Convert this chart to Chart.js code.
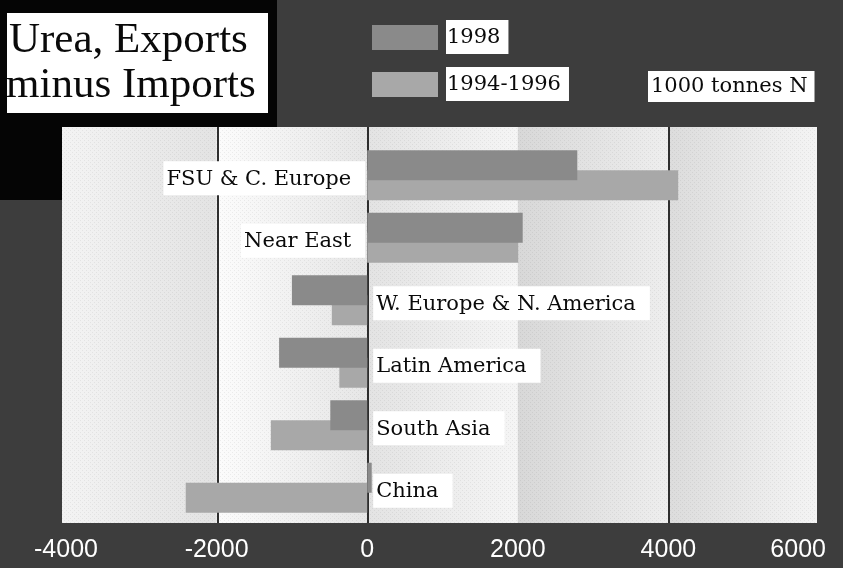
<!DOCTYPE html>
<html>
<head>
<meta charset="utf-8">
<title>Urea, Exports minus Imports</title>
<script src="https://cdn.jsdelivr.net/npm/chart.js@4.4.1/dist/chart.umd.min.js"></script>
<style>
  html, body { margin: 0; padding: 0; background: #3d3d3d; }
</style>
</head>
<body>
<canvas id="ureaChart" width="843" height="568"></canvas>
<script>
const regions = ['FSU & C. Europe', 'Near East', 'W. Europe & N. America', 'Latin America', 'South Asia', 'China'];
const net1998 = [2790, 2065, -1000, -1170, -490, 60];
const net9496 = [4130, 2005, -470, -370, -1280, -2410];
const xTicks = [-4000, -2000, 0, 2000, 4000, 6000];
const seriesNames = ['1998', '1994-1996'];
const titleLines = ['Urea, Exports', 'minus Imports'];
const unitNote = '1000 tonnes N';

const serif = '"DejaVu Serif", serif';
const barColors = ['#8a8a8a', '#a8a8a8'];
// shading of each column between two ticks, left -> right
const bandShades = [
    ['#f3f3f3', '#e3e3e3'],
    ['#fcfcfc', '#e6e6e6'],
    ['#e3e3e3', '#f5f5f5'],
    ['#d8d8d8', '#eeeeee'],
    ['#dcdcdc', '#f4f4f4'],
];
const darkLines = [-2000, 0, 4000];

function whiteBox(ctx, x, y, w, h) {
    ctx.fillStyle = '#ffffff';
    ctx.fillRect(x, y, w, h);
}

// small dotted tile laid over the plot shading
function dotPattern(ctx) {
    const tile = document.createElement('canvas');
    tile.width = 4;
    tile.height = 4;
    const t = tile.getContext('2d');
    t.fillStyle = 'rgba(0,0,0,0.06)';
    t.fillRect(0, 0, 1, 1);
    t.fillRect(2, 2, 1, 1);
    return ctx.createPattern(tile, 'repeat');
}

const backdrop = {
    id: 'backdrop',
    beforeDraw(chart) {
        const { ctx, chartArea: a, scales: { x } } = chart;
        ctx.save();
        ctx.fillStyle = '#3d3d3d';
        ctx.fillRect(0, 0, chart.width, chart.height);
        ctx.fillStyle = '#050505';
        ctx.fillRect(0, 0, 277, 200);

        const top = a.top - 17, bottom = a.bottom + 4;
        const left = a.left - 4, right = a.right - 3;
        for (let i = 0; i < xTicks.length - 1; i++) {
            const x0 = Math.max(left, x.getPixelForValue(xTicks[i]));
            const x1 = Math.min(right, x.getPixelForValue(xTicks[i + 1]));
            const g = ctx.createLinearGradient(x0, 0, x1, 0);
            g.addColorStop(0, bandShades[i][0]);
            g.addColorStop(1, bandShades[i][1]);
            ctx.fillStyle = g;
            ctx.fillRect(x0, top, x1 - x0 + 1, bottom - top);
        }
        ctx.fillStyle = bandShades[0][0];
        ctx.fillRect(left, top, x.getPixelForValue(xTicks[0]) - left + 1, bottom - top);
        ctx.fillStyle = dotPattern(ctx);
        ctx.fillRect(left, top, right - left, bottom - top);

        ctx.strokeStyle = '#2e2e2e';
        ctx.lineWidth = 2;
        darkLines.forEach(v => {
            const px = Math.round(x.getPixelForValue(v)) + 1;
            ctx.beginPath();
            ctx.moveTo(px, top);
            ctx.lineTo(px, bottom);
            ctx.stroke();
        });
        ctx.restore();
    }
};

const regionLabels = {
    id: 'regionLabels',
    afterDatasetsDraw(chart) {
        const { ctx, scales: { x, y } } = chart;
        const zero = x.getPixelForValue(0);
        ctx.save();
        ctx.font = '21px ' + serif;
        ctx.textBaseline = 'middle';
        regions.forEach((name, i) => {
            const cy = y.getPixelForValue(i) + 3;
            const w = ctx.measureText(name).width;
            const onLeft = net1998[i] + net9496[i] >= 0;
            const tx = onLeft ? zero - 16 - w : zero + 9;
            whiteBox(ctx, tx - 3, cy - 17, w + 17, 34);
            ctx.fillStyle = '#0a0a0a';
            ctx.textAlign = 'left';
            ctx.fillText(name, tx, cy + 1);
        });
        ctx.restore();
    }
};

const headings = {
    id: 'headings',
    afterDraw(chart) {
        const { ctx } = chart;
        const sets = chart.data.datasets;
        ctx.save();
        // title block
        whiteBox(ctx, 7, 13, 261, 100);
        ctx.fillStyle = '#0a0a0a';
        ctx.font = '43px "Liberation Serif", "Times New Roman", serif';
        ctx.textBaseline = 'alphabetic';
        ctx.fillText(titleLines[0], 9, 52);
        ctx.fillText(titleLines[1], 6, 97);

        // legend
        ctx.font = '21px ' + serif;
        ctx.textBaseline = 'middle';
        const rows = [37, 84];
        sets.forEach((ds, i) => {
            const cy = rows[i];
            ctx.fillStyle = ds.backgroundColor;
            ctx.fillRect(372, cy - 12, 66, 25);
            const w = ctx.measureText(ds.label).width;
            whiteBox(ctx, 446, cy - 17, w + 9, 34);
            ctx.fillStyle = '#0a0a0a';
            ctx.fillText(ds.label, 447, cy + 1);
        });

        // unit note
        const uw = ctx.measureText(unitNote).width;
        whiteBox(ctx, 648, 71, uw + 10, 31);
        ctx.fillStyle = '#0a0a0a';
        ctx.fillText(unitNote, 651, 87);
        ctx.restore();
    }
};

new Chart(document.getElementById('ureaChart'), {
    type: 'bar',
    data: {
        labels: regions,
        datasets: [{
            label: seriesNames[0],
            data: net1998,
            backgroundColor: barColors[0],
            categoryPercentage: 0.64,
            barPercentage: 1.5,
        }, {
            label: seriesNames[1],
            data: net9496,
            backgroundColor: barColors[1],
            categoryPercentage: 0.64,
            barPercentage: 1.5,
        }]
    },
    options: {
        indexAxis: 'y',
        responsive: false,
        animation: false,
        layout: {
            padding: { top: 144, left: 66, right: 24, bottom: 3 }
        },
        scales: {
            x: {
                min: -4000,
                max: 6000,
                afterBuildTicks: axis => {
                    axis.ticks = xTicks.map(v => ({ value: v }));
                },
                afterFit: axis => {
                    // keep the plot box fixed, labels may hang past its edges
                    axis.height = 46;
                    axis.paddingLeft = 0;
                    axis.paddingRight = 0;
                },
                grid: { display: false, drawTicks: false },
                border: { display: false },
                ticks: {
                    color: '#ffffff',
                    padding: 16,
                    autoSkip: false,
                    maxRotation: 0,
                    font: { family: '"Liberation Sans", Arial, sans-serif', size: 25 },
                    // last label is pulled in so it stays inside the frame
                    callback: (v, i, ticks) => i === ticks.length - 1 ? v + '\u2007\u2007\u2007' : String(v)
                }
            },
            y: { display: false }
        },
        plugins: {
            legend: { display: false },
            tooltip: { enabled: false }
        }
    },
    plugins: [backdrop, regionLabels, headings]
});
</script>
</body>
</html>
